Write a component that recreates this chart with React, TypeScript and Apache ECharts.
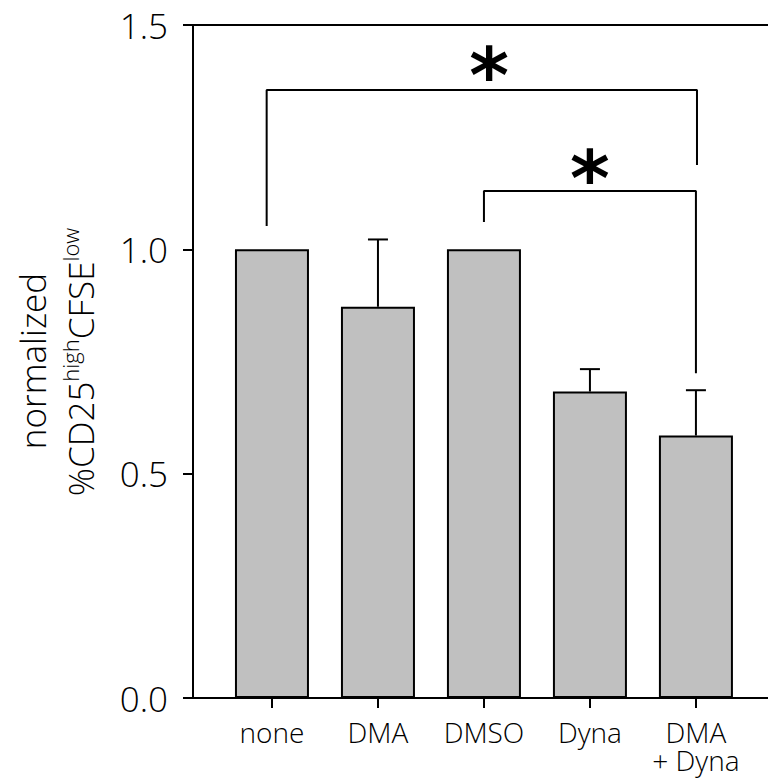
import React, { useEffect, useRef } from "react";
import * as echarts from "echarts";

const categories = ["none", "DMA", "DMSO", "Dyna", "DMA\n+ Dyna"];
const means = [1.0, 0.872, 1.0, 0.683, 0.585];
const sems = [0, 0.15, 0, 0.05, 0.101];
const yTicks = [0, 0.5, 1.0, 1.5];
// significance brackets in data coordinates [category index, value]
const bracketAll = [[-0.05, 1.052], [-0.05, 1.355], [4.01, 1.355], [4.01, 1.188]];
const bracketDmso = [[2.0, 1.061], [2.0, 1.13], [4.0, 1.13], [4.0, 0.724]];
const stars = [[2.05, 1.409], [3.0, 1.181]];

const FONT = '"Open Sans", "DejaVu Sans", sans-serif';
const W = 300;

export default function App() {
  const ref = useRef<HTMLDivElement>(null);
  useEffect(() => {
    if (!ref.current) return;
    const chart = echarts.init(ref.current, null, { renderer: "svg" });
    const catIdx = categories.map((_, i) => i);
    const option: any = {
      animation: false,
      backgroundColor: "#fff",
      grid: { left: 193, right: 0, top: 25, bottom: 82, containLabel: false, outerBoundsMode: "none" },
      xAxis: [
        {
          type: "value",
          min: -0.745,
          max: 4.68,
          axisLine: { show: true, onZero: false, lineStyle: { color: "#000", width: 2 } },
          axisTick: { show: true, length: 10, lineStyle: { color: "#000", width: 2 }, customValues: catIdx },
          axisLabel: {
            show: true,
            customValues: catIdx,
            formatter: (v: number) => categories[Math.round(v)] ?? "",
            fontFamily: FONT,
            fontWeight: W,
            fontSize: 28,
            color: "#000",
            margin: 20,
            lineHeight: 28,
            verticalAlign: "top",
          },
          splitLine: { show: false },
        },
        {
          type: "value",
          position: "top",
          min: -0.745,
          max: 4.68,
          axisLine: { show: true, onZero: false, lineStyle: { color: "#000", width: 2 } },
          axisTick: { show: false },
          axisLabel: { show: false },
          splitLine: { show: false },
        },
      ],
      yAxis: {
        type: "value",
        min: 0,
        max: 1.5,
        interval: 0.5,
        axisLine: { show: true, onZero: false, lineStyle: { color: "#000", width: 2 } },
        axisTick: { show: true, length: 10, lineStyle: { color: "#000", width: 2 } },
        axisLabel: {
          fontFamily: FONT,
          fontWeight: W,
          fontSize: 35,
          color: "#000",
          margin: 25,
          formatter: (v: number) => (yTicks.includes(v) ? v.toFixed(1) : ""),
        },
        splitLine: { show: false },
      },
      series: [
        {
          type: "bar",
          data: means.map((m, i) => [i, m]),
          barWidth: 74,
          itemStyle: { color: "#c0c0c0", borderColor: "#000", borderWidth: 2 },
          z: 2,
        },
        {
          type: "custom",
          data: means.map((m, i) => [i, m, m + sems[i]]),
          z: 3,
          renderItem: (params: any, api: any) => {
            const x = api.value(0);
            const lo = api.value(1);
            const hi = api.value(2);
            if (hi - lo <= 0) return { type: "group", children: [] };
            const p0 = api.coord([x, lo]);
            const p1 = api.coord([x, hi]);
            const st = { stroke: "#000", lineWidth: 2 };
            return {
              type: "group",
              children: [
                { type: "line", shape: { x1: p0[0], y1: p0[1], x2: p1[0], y2: p1[1] }, style: st },
                { type: "line", shape: { x1: p1[0] - 10, y1: p1[1], x2: p1[0] + 10, y2: p1[1] }, style: st },
              ],
            };
          },
        },
        {
          type: "line",
          data: bracketAll,
          showSymbol: false,
          symbol: "none",
          lineStyle: { color: "#000", width: 2 },
          z: 4,
        },
        {
          type: "line",
          data: bracketDmso,
          showSymbol: false,
          symbol: "none",
          lineStyle: { color: "#000", width: 2 },
          z: 4,
        },
        {
          type: "scatter",
          data: stars,
          symbolSize: 1,
          itemStyle: { color: "rgba(0,0,0,0)", opacity: 1 },
          label: {
            show: true,
            position: "inside",
            offset: [0, 10],
            formatter: "*",
            fontFamily: "DejaVu Sans",
            fontWeight: "bold",
            fontSize: 76,
            color: "#000",
            opacity: 1,
            textBorderWidth: 0,
          },
          z: 5,
        },
      ],
      graphic: [
        {
          type: "text",
          x: 32,
          y: 361,
          rotation: Math.PI / 2,
          style: {
            text: "normalized",
            fontFamily: FONT,
            fontWeight: W,
            fontSize: 35,
            fill: "#000",
            textAlign: "center",
            textVerticalAlign: "middle",
          },
        },
        {
          type: "text",
          x: 80,
          y: 362,
          rotation: Math.PI / 2,
          style: {
            text: "{m|%CD25}{s|high}{m|CFSE}{s|low}",
            fill: "#000",
            textAlign: "center",
            textVerticalAlign: "middle",
            rich: {
              m: { fontFamily: FONT, fontWeight: W, fontSize: 35, lineHeight: 42, fill: "#000" },
              s: { fontFamily: FONT, fontWeight: W, fontSize: 22, lineHeight: 22, verticalAlign: "top", fill: "#000" },
            },
          },
        },
      ],
    };
    chart.setOption(option);
    return () => chart.dispose();
  }, []);
  return <div ref={ref} style={{ width: 768, height: 780, position: "absolute", left: 0, top: 0 }} />;
}
